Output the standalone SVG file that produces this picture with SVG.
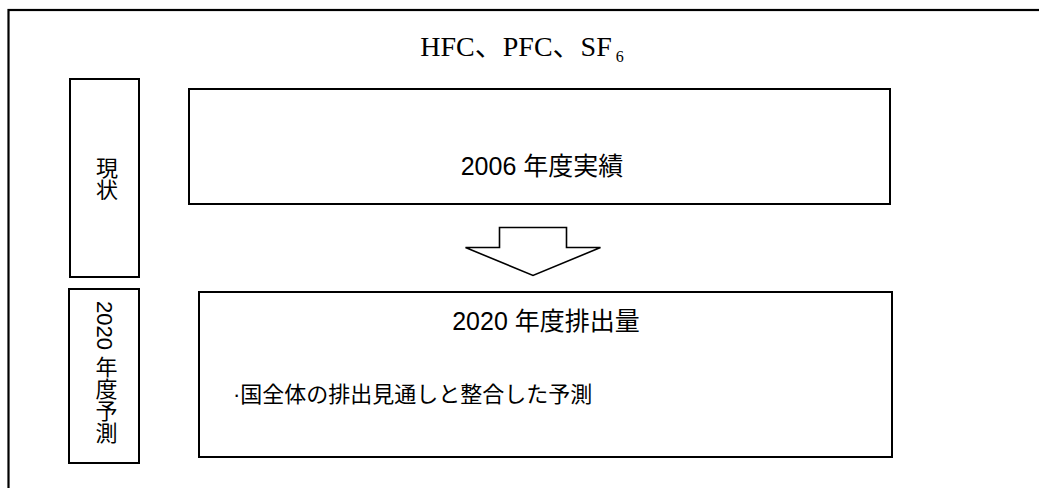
<svg xmlns="http://www.w3.org/2000/svg" width="1039" height="488" viewBox="0 0 1039 488">
<style>
.box{fill:#fff;stroke:#000;stroke-width:2}
.frame{fill:#fff;stroke:#000;stroke-width:2.2}
.jp{font-family:"Liberation Sans","Noto Sans CJK JP",sans-serif;fill:#000}
.vt{writing-mode:vertical-rl;text-orientation:mixed}
.arrow{fill:#fff;stroke:#000;stroke-width:1.6;stroke-linejoin:miter}
</style>
<rect width="1039" height="488" fill="#fff"/>
<g id="frame">
<rect class="frame" x="8.5" y="10" width="1040" height="500"/>
<text x="522" y="56" text-anchor="middle" font-family="'Liberation Serif','Noto Sans CJK JP',serif" font-size="28">HFC、PFC、SF<tspan font-size="16" dy="6"> 6</tspan></text>
</g>
<g id="label-current">
<rect class="box" x="70" y="79" width="69" height="198"/>
<text class="jp vt" x="104.5" y="157" font-size="22">現状</text>
</g>
<g id="label-2020">
<rect class="box" x="69" y="289" width="70" height="174"/>
<text class="jp vt" x="104" y="301" font-size="22">2020 年度予測</text>
</g>
<g id="node-2006">
<rect class="box" x="189" y="89" width="701" height="115"/>
<text class="jp" x="542" y="175" text-anchor="middle" font-size="25">2006 年度実績</text>
</g>
<g id="node-2020">
<rect class="box" x="199" y="292" width="693" height="165"/>
<text class="jp" x="546" y="330" text-anchor="middle" font-size="25">2020 年度排出量</text>
<text class="jp" x="233" y="402" font-size="22">·国全体の排出見通しと整合した予測</text>
</g>
<g id="connectors">
<polygon class="arrow" points="499.5,227.5 566.5,227.5 566.5,247.5 600.5,247.5 533,275.5 465.5,247.5 499.5,247.5"/>
</g>
</svg>
